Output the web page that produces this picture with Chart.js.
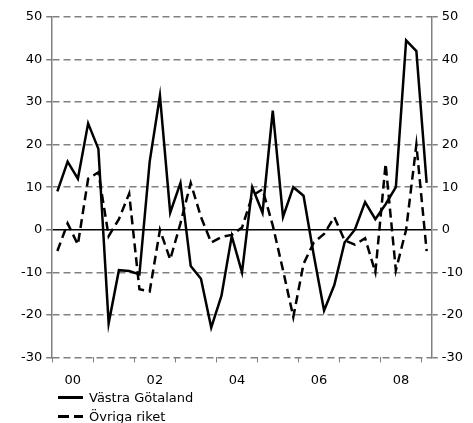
<!DOCTYPE html>
<html>
<head>
<meta charset="utf-8">
<script src="https://cdn.jsdelivr.net/npm/chart.js@4.4.1/dist/chart.umd.min.js"></script>
<style>
  body { margin: 0; background: #fff; font-family: "DejaVu Sans", sans-serif; }
  #wrap { position: relative; width: 473px; height: 423px; }
  #chart-box { position: absolute; left: 0; top: 0; width: 473px; height: 400px; }
  .legend-row { position: absolute; left: 58px; height: 18px; font-size: 13px; color: #000; display: flex; align-items: center; }
  .legend-row .sample { width: 25px; height: 3px; margin-right: 6px; }
  .solid { background: #000; }
  .dashed { background: linear-gradient(to right, #000 0 11px, transparent 11px 16px, #000 16px 25px); }
</style>
</head>
<body>
<div id="wrap">
  <div id="chart-box"><canvas id="chart"></canvas></div>
  <div class="legend-row" style="top:388px"><span class="sample solid"></span><span id="lg0"></span></div>
  <div class="legend-row" style="top:407px"><span class="sample dashed"></span><span id="lg1"></span></div>
</div>
<script>
// Quarterly data 2000 Q1 - 2009 Q1
const years = ["2000", "2001", "2002", "2003", "2004", "2005", "2006", "2007", "2008", "2009"];
const quarters = [];
years.forEach((y) => ["K1", "K2", "K3", "K4"].forEach((q) => quarters.push(y + q)));
quarters.length = 37;

const yearLabels = ["00", "02", "04", "06", "08"];
const seriesNames = ["Västra Götaland", "Övriga riket"];

const vastraGotaland = [
  9, 16, 12, 25, 19, -22, -9.5, -9.7, -10.5,
  16, 31.5, 4, 11, -8.5, -11.5, -23, -15.5,
  -1.5, -10, 10, 4, 28, 3, 10, 8,
  -6, -19, -13, -3, 0, 6.5, 2.5, 6,
  10, 44.5, 42, 11,
];

const ovrigaRiket = [
  -5, 1.5, -3.5, 12, 13.5, -1.5, 2.5, 8.5, -14,
  -14.5, 0, -7, 1.5, 11, 3, -3, -1.7,
  -1.2, 0.5, 8, 9.5, 1, -9.5, -20.5, -8,
  -3, -1, 3, -2.5, -3.5, -2, -10, 15.5,
  -9.5, 0, 20, -5,
];

const yMin = -30;
const yMax = 50;
const yStep = 10;

document.getElementById("lg0").textContent = seriesNames[0];
document.getElementById("lg1").textContent = seriesNames[1];

Chart.defaults.font.family = "DejaVu Sans";
Chart.defaults.font.size = 13;
Chart.defaults.color = "#000";

const gray = "#808080";

const yTicks = {
  stepSize: yStep,
  padding: 4,
  color: "#000",
};

new Chart(document.getElementById("chart").getContext("2d"), {
  type: "line",
  data: {
    labels: quarters,
    datasets: [
      {
        label: seriesNames[0],
        data: vastraGotaland,
        borderColor: "#000",
        borderWidth: 2.5,
        pointRadius: 0,
        tension: 0,
        fill: false,
        order: 0,
      },
      {
        label: seriesNames[1],
        data: ovrigaRiket,
        borderColor: "#000",
        borderWidth: 2.5,
        borderDash: [9, 5],
        pointRadius: 0,
        tension: 0,
        fill: false,
        order: 1,
      },
    ],
  },
  options: {
    responsive: true,
    maintainAspectRatio: false,
    animation: false,
    layout: { padding: { left: 17, right: 6, top: 17, bottom: 2 } },
    plugins: {
      legend: { display: false },
      tooltip: { enabled: false },
    },
    scales: {
      x: {
        offset: true,
        grid: {
          offset: true,
          drawOnChartArea: false,
          tickLength: 5,
          lineWidth: 1,
          color: (ctx) => (ctx.index % 4 === 0 ? gray : "rgba(0,0,0,0)"),
        },
        border: { display: false },
        ticks: {
          autoSkip: false,
          maxRotation: 0,
          padding: 10,
          labelOffset: 5.2,
          callback: (val, i) => (i % 8 === 1 ? yearLabels[(i - 1) / 8] : ""),
        },
      },
      y: {
        position: "left",
        min: yMin,
        max: yMax,
        ticks: yTicks,
        grid: {
          tickLength: 6,
          lineWidth: 1.5,
          color: (ctx) => (ctx.tick && ctx.tick.value === 0 ? "#000" : gray),
          tickColor: gray,
        },
        border: {
          color: gray,
          width: 1.5,
          dash: (ctx) => (ctx.tick && ctx.tick.value === 0 ? [] : [7, 4]),
        },
      },
      y2: {
        position: "right",
        min: yMin,
        max: yMax,
        ticks: yTicks,
        grid: {
          drawOnChartArea: false,
          tickLength: 6,
          lineWidth: 1.5,
          color: gray,
        },
        border: { color: gray, width: 1.5 },
      },
    },
  },
});
</script>
</body>
</html>
